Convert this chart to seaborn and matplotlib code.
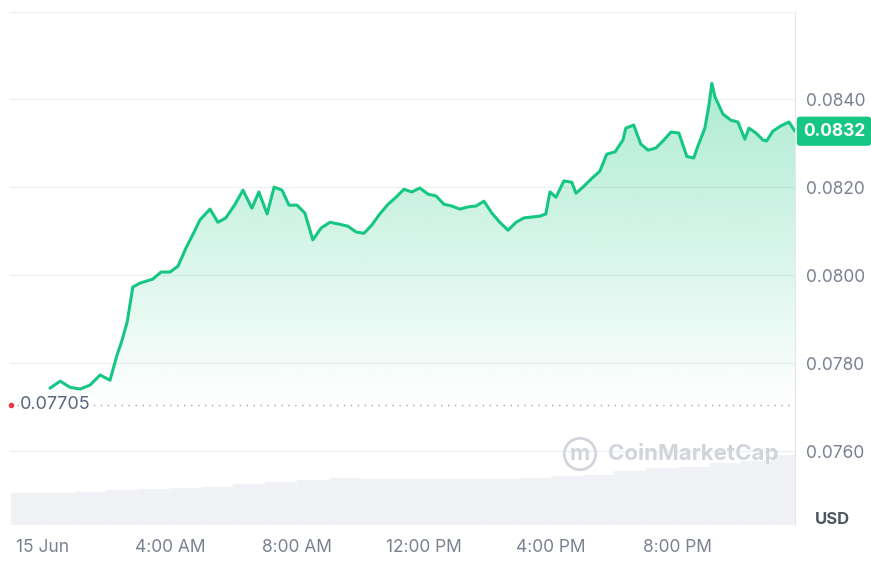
import numpy as np
import matplotlib.pyplot as plt
import seaborn as sns
from matplotlib.patches import Polygon

# price, hours after midnight 15 Jun
hours = [0.22, 0.54, 0.85, 1.17, 1.48, 1.80, 2.11, 2.33, 2.49, 2.65, 2.83, 3.06, 3.24, 3.46, 3.72,
         4.00, 4.25, 4.50, 4.76, 4.94, 5.26, 5.51, 5.76, 6.05, 6.30, 6.58, 6.80, 7.06, 7.28, 7.53,
         7.75, 8.00, 8.25, 8.50, 8.76, 9.04, 9.32, 9.61, 9.86, 10.11, 10.36, 10.61, 10.87, 11.12,
         11.37, 11.62, 11.87, 12.13, 12.38, 12.63, 12.88, 13.13, 13.39, 13.64, 13.89, 14.14, 14.39,
         14.65, 14.90, 15.15, 15.40, 15.65, 15.84, 15.97, 16.16, 16.41, 16.66, 16.79, 17.04, 17.29,
         17.54, 17.76, 18.02, 18.27, 18.36, 18.61, 18.83, 19.06, 19.31, 19.56, 19.78, 20.03, 20.28,
         20.50, 20.63, 20.85, 20.98, 21.07, 21.17, 21.42, 21.67, 21.89, 22.11, 22.24, 22.46, 22.68,
         22.80, 22.99, 23.24, 23.50, 23.69]
prices = [0.07743, 0.07759, 0.07745, 0.07741, 0.07750, 0.07773, 0.07761, 0.07818, 0.07852, 0.07893,
          0.07973, 0.07982, 0.07986, 0.07991, 0.08007, 0.08007, 0.08020, 0.08061, 0.08098, 0.08125,
          0.08150, 0.08120, 0.08130, 0.08161, 0.08193, 0.08152, 0.08189, 0.08139, 0.08200, 0.08193,
          0.08159, 0.08159, 0.08141, 0.08080, 0.08107, 0.08120, 0.08116, 0.08111, 0.08098, 0.08095,
          0.08114, 0.08139, 0.08161, 0.08177, 0.08195, 0.08189, 0.08198, 0.08184, 0.08180, 0.08161,
          0.08157, 0.08150, 0.08155, 0.08157, 0.08168, 0.08141, 0.08120, 0.08102, 0.08120, 0.08130,
          0.08132, 0.08134, 0.08139, 0.08189, 0.08177, 0.08214, 0.08211, 0.08186, 0.08202, 0.08220,
          0.08236, 0.08275, 0.08280, 0.08307, 0.08334, 0.08341, 0.08298, 0.08284, 0.08289, 0.08307,
          0.08325, 0.08323, 0.08270, 0.08266, 0.08293, 0.08334, 0.08386, 0.08436, 0.08405, 0.08366,
          0.08352, 0.08348, 0.08309, 0.08334, 0.08323, 0.08307, 0.08305, 0.08327, 0.08339, 0.08348,
          0.08327]

# volume (relative), one value per hour starting at -1h
vol_hours = list(range(-1, 24))
volume = [32, 32, 33, 35, 36, 37, 38, 41, 43, 45, 47, 46, 46, 46, 46, 46, 47, 49, 50, 54, 57, 58, 62, 64, 70]

yticks = [0.0760, 0.0780, 0.0800, 0.0820, 0.0840]
xticks = [0, 4, 8, 12, 16, 20]
xlabels = ["15 Jun", "4:00 AM", "8:00 AM", "12:00 PM", "4:00 PM", "8:00 PM"]
open_price = 0.07705
last_label = "0.0832"

green = "#16c784"
grey = "#7a8190"
sns.set_style("white")
plt.rcParams["font.family"] = ["Inter", "DejaVu Sans"]

fig = plt.figure(figsize=(8.71, 5.61), dpi=100)
ax = fig.add_axes([10 / 871, 1 - 525 / 561, 785 / 871, 513 / 561])
xmin, xmax = -1.04, 23.69
ymin, ymax = 0.07432, 0.08598

# volume bars on a twin axis
axv = ax.twinx()
axv.set_ylim(0, 513)
axv.bar([h + 0.5 for h in vol_hours], volume, width=1.0, color="#f0f1f4", edgecolor="#f8f9fb",
        linewidth=0.3, zorder=0)
axv.set_yticks([])
for s in axv.spines.values():
    s.set_visible(False)
ax.set_zorder(axv.get_zorder() + 1)
ax.patch.set_visible(False)

# gradient fill
grad = np.linspace(0.35, 0.0, 256).reshape(-1, 1)
cmap = np.zeros((256, 1, 4))
cmap[..., :3] = np.array([22, 199, 132]) / 255
cmap[..., 3] = grad
im = ax.imshow(cmap, aspect="auto", extent=[xmin, xmax, 0.0770, max(prices)], origin="upper", zorder=1)
poly = Polygon(list(zip([hours[0]] + hours + [hours[-1]], [ymin] + prices + [ymin])),
               closed=True, transform=ax.transData, facecolor="none", edgecolor="none")
ax.add_patch(poly)
im.set_clip_path(poly)

sns.lineplot(x=hours, y=prices, ax=ax, color=green, linewidth=2.2, zorder=3)

for t in yticks:
    ax.axhline(t, color="#eef0f3", linewidth=1, zorder=0.5)
ax.axhline(open_price, color="#9ca3af", linewidth=1, linestyle=(0, (1, 4)), zorder=2)
ax.text(-0.72, open_price, "0.07705", fontsize=13, color="#58667e",
        va="center", ha="left", bbox=dict(facecolor="white", edgecolor="none", pad=1), zorder=4)
ax.plot([xmin + 0.03], [open_price], marker="o", markersize=3, color="#ea3943", zorder=5, clip_on=False)

ax.set_xlim(xmin, xmax)
ax.set_ylim(ymin, ymax)
ax.yaxis.tick_right()
ax.set_yticks(yticks)
ax.set_yticklabels([f"{t:.4f}" for t in yticks], fontsize=12.5, color=grey)
ax.set_xticks(xticks)
ax.set_xticklabels(xlabels, fontsize=12.5, color=grey)
ax.tick_params(axis="both", length=0, pad=8)
ax.tick_params(axis="x", pad=10)
for side in ["left", "bottom"]:
    ax.spines[side].set_visible(False)
ax.spines["top"].set_color("#eef0f3")
ax.spines["right"].set_color("#e5e7eb")

ax.text(1.01, prices[-1], last_label, transform=ax.get_yaxis_transform(), fontsize=12.5, color="white",
        fontweight="bold", va="center", ha="left",
        bbox=dict(boxstyle="round,pad=0.35,rounding_size=0.2", facecolor=green, edgecolor="none"), zorder=6)
fig.text(832 / 871, 1 - 519 / 561, "USD", fontsize=12, color="#4b5563", fontweight="bold", ha="center", va="center")
fig.text(608 / 871, 1 - 454 / 561, "CoinMarketCap", fontsize=16, color="#d1d5db", fontweight="bold",
         ha="left", va="center")
fig.text(580 / 871, 1 - 454 / 561, "m", fontsize=16, color="#d1d5db", fontweight="bold", ha="center", va="center",
         bbox=dict(boxstyle="circle,pad=0.25", facecolor="none", edgecolor="#d1d5db", linewidth=2))

fig.savefig("out.png", dpi=100)
